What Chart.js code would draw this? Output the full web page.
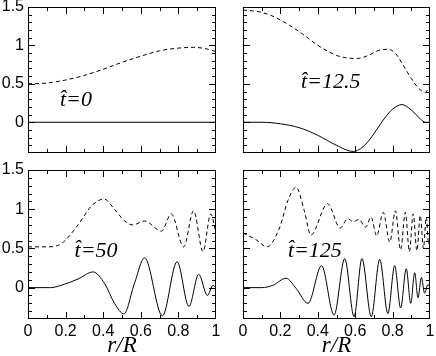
<!DOCTYPE html>
<html>
<head>
<meta charset="utf-8">
<script src="https://cdn.jsdelivr.net/npm/chart.js@4.4.1/dist/chart.umd.min.js"></script>
<style>
  body { margin: 0; background: #fff; }
  #wrap { position: relative; width: 436px; height: 356px; }
  #wrap canvas { position: absolute; left: 0; top: 0; }
</style>
</head>
<body>
<div id="wrap">
  <canvas id="p0" width="436" height="356"></canvas>
  <canvas id="p1" width="436" height="356"></canvas>
  <canvas id="p2" width="436" height="356"></canvas>
  <canvas id="p3" width="436" height="356"></canvas>
</div>
<script>
// tick labels
const xTicks = [0, 0.2, 0.4, 0.6, 0.8, 1];
const yTicks = [0, 0.5, 1, 1.5];

// t = 0
const rDash0 = [0, 0.1, 0.2, 0.3, 0.4, 0.5, 0.6, 0.7, 0.8, 0.88, 0.95, 1];
const dash0 = [0.5, 0.51, 0.55, 0.61, 0.69, 0.78, 0.86, 0.93, 0.965, 0.975, 0.955, 0.92];
const rSolid0 = [0, 1];
const solid0 = [0, 0];

// t = 12.5
const rDash1 = [0, 0.05, 0.1, 0.15, 0.2, 0.25, 0.3, 0.35, 0.4, 0.45, 0.5, 0.55, 0.61, 0.67, 0.72, 0.77, 0.81, 0.86, 0.9, 0.94, 0.975, 1];
const dash1 = [1.46, 1.45, 1.43, 1.39, 1.33, 1.26, 1.18, 1.09, 1.0, 0.93, 0.87, 0.84, 0.83, 0.87, 0.93, 0.95, 0.91, 0.73, 0.57, 0.44, 0.39, 0.48];
const rSolid1 = [0, 0.1, 0.2, 0.3, 0.4, 0.5, 0.59, 0.65, 0.7, 0.75, 0.8, 0.85, 0.9, 0.95, 0.975, 1];
const solid1 = [0, 0, -0.02, -0.07, -0.17, -0.3, -0.38, -0.3, -0.15, 0.03, 0.17, 0.23, 0.16, 0.04, 0, 0];

// t = 50
const rDash2 = [0, 0.1, 0.177, 0.266, 0.337, 0.404, 0.46, 0.514, 0.558, 0.62, 0.71, 0.762, 0.828, 0.881, 0.931, 0.972, 1];
const dash2 = [0.52, 0.52, 0.56, 0.8, 1.04, 1.13, 1.0, 0.85, 0.8, 0.85, 0.72, 0.94, 0.52, 0.98, 0.46, 0.94, 0.7];
const rSolid2 = [0, 0.12, 0.177, 0.266, 0.346, 0.408, 0.46, 0.51, 0.567, 0.62, 0.715, 0.793, 0.856, 0.908, 0.954, 0.984, 1];
const solid2 = [0, 0, 0.03, 0.11, 0.2, 0.05, -0.2, -0.335, 0.06, 0.38, -0.36, 0.33, -0.24, 0.17, -0.1, 0.03, 0];

// t = 125
const rDash3 = [0, 0.071, 0.128, 0.195, 0.24, 0.284, 0.328, 0.363, 0.452, 0.52, 0.56, 0.59, 0.62, 0.655, 0.685, 0.715, 0.75, 0.785, 0.815, 0.843, 0.868, 0.89, 0.91, 0.93, 0.948, 0.965, 0.98, 0.993, 1];
const dash3 = [0.695, 0.61, 0.52, 0.76, 1.11, 1.28, 0.98, 0.67, 1.07, 0.76, 0.88, 0.84, 0.87, 0.77, 0.9, 0.66, 0.96, 0.58, 0.98, 0.48, 0.96, 0.46, 0.94, 0.47, 0.92, 0.5, 0.9, 0.55, 0.75];
const rSolid3 = [0, 0.1, 0.16, 0.23, 0.284, 0.348, 0.42, 0.487, 0.544, 0.594, 0.636, 0.686, 0.731, 0.775, 0.811, 0.843, 0.873, 0.897, 0.918, 0.936, 0.954, 0.971, 0.989, 1];
const solid3 = [0, 0, 0.03, 0.12, -0.01, -0.2, 0.28, -0.35, 0.37, -0.37, 0.37, -0.37, 0.36, -0.33, 0.28, -0.26, 0.24, -0.2, 0.19, -0.13, 0.13, -0.07, 0.04, 0];

const pts = (xs, ys) => xs.map((x, i) => ({x: x, y: ys[i]}));

// ticks pointing inwards on all four sides, plus the frame
const innerTicks = {
  id: 'innerTicks',
  afterDraw(chart) {
    const {ctx, chartArea: a, scales: {x, y}} = chart;
    ctx.save();
    ctx.strokeStyle = '#000';
    ctx.lineWidth = 1;
    ctx.beginPath();
    for (let i = 1; i < 10; i++) {
      const px = Math.round(x.getPixelForValue(i / 10)) + 0.5;
      const len = i % 2 === 0 ? 7 : 4;
      ctx.moveTo(px, a.top); ctx.lineTo(px, a.top + len);
      ctx.moveTo(px, a.bottom); ctx.lineTo(px, a.bottom - len);
    }
    for (let i = -3; i < 15; i++) {
      const py = Math.round(y.getPixelForValue(i / 10)) + 0.5;
      const len = i % 5 === 0 ? 7 : 4;
      ctx.moveTo(a.left, py); ctx.lineTo(a.left + len, py);
      ctx.moveTo(a.right, py); ctx.lineTo(a.right - len, py);
    }
    ctx.stroke();
    ctx.strokeRect(Math.round(a.left) + 0.5, Math.round(a.top) + 0.5, Math.round(a.width) - 1, Math.round(a.height) - 1);
    ctx.restore();
  }
};

// the t-hat label inside each panel
const panelLabel = {
  id: 'panelLabel',
  afterDraw(chart, args, opts) {
    const {ctx, scales: {x, y}} = chart;
    ctx.save();
    ctx.fillStyle = '#000';
    ctx.font = 'italic 22px "Liberation Serif", "Times New Roman", serif';
    ctx.textBaseline = 'alphabetic';
    ctx.fillText(opts.text, x.getPixelForValue(opts.x), y.getPixelForValue(opts.y));
    ctx.restore();
  }
};

const tickFont = {family: '"Liberation Sans", Arial, sans-serif', size: 16};

function makePanel(id, pad, rd, d, rs, s, label, showX, showY) {
  new Chart(document.getElementById(id), {
    type: 'line',
    data: {
      datasets: [
        {data: pts(rd, d), borderColor: '#000', borderWidth: 1, borderDash: [4, 3], pointRadius: 0, cubicInterpolationMode: 'monotone'},
        {data: pts(rs, s), borderColor: '#000', borderWidth: 1, pointRadius: 0, cubicInterpolationMode: 'monotone'}
      ]
    },
    options: {
      responsive: false,
      animation: false,
      devicePixelRatio: 1,
      layout: {padding: pad},
      plugins: {legend: {display: false}, tooltip: {enabled: false}, panelLabel: label},
      scales: {
        x: {
          type: 'linear', min: 0, max: 1,
          grid: {display: false, drawTicks: false}, border: {display: false},
          afterBuildTicks: sc => { sc.ticks = xTicks.map(v => ({value: v})); },
          afterFit: sc => {
            sc.height = showX ? 37 : 0;
            sc.paddingLeft = sc.paddingRight = sc.paddingTop = sc.paddingBottom = 0;
          },
          ticks: {display: showX, color: '#000', font: tickFont, padding: 3, maxRotation: 0, autoSkip: false,
                  callback: v => String(v)},
          title: {display: showX, text: 'r/R', color: '#000', padding: {top: 0, bottom: 1},
                  font: {family: '"Liberation Serif", "Times New Roman", serif', style: 'italic', size: 23, lineHeight: 0.75}}
        },
        y: {
          type: 'linear', min: -0.4, max: 1.5,
          grid: {display: false, drawTicks: false}, border: {display: false},
          afterBuildTicks: sc => { sc.ticks = yTicks.map(v => ({value: v})); },
          afterFit: sc => {
            sc.width = showY ? 28 : 0;
            sc.paddingLeft = sc.paddingRight = sc.paddingTop = sc.paddingBottom = 0;
          },
          ticks: {display: showY, color: '#000', font: tickFont, padding: 4, autoSkip: false,
                  callback: v => String(v)}
        }
      }
    },
    plugins: [innerTicks, panelLabel]
  });
}

makePanel('p0', {left: 0, top: 7, right: 220, bottom: 203}, rDash0, dash0, rSolid0, solid0,
  {text: 't\u0302=0', x: 0.17, y: 0.21}, false, true);
makePanel('p1', {left: 243, top: 7, right: 6, bottom: 203}, rDash1, dash1, rSolid1, solid1,
  {text: 't\u0302=12.5', x: 0.31, y: 0.44}, false, false);
makePanel('p2', {left: 0, top: 170, right: 220, bottom: 0}, rDash2, dash2, rSolid2, solid2,
  {text: 't\u0302=50', x: 0.248, y: 0.395}, true, true);
makePanel('p3', {left: 243, top: 170, right: 6, bottom: 0}, rDash3, dash3, rSolid3, solid3,
  {text: 't\u0302=125', x: 0.24, y: 0.395}, true, false);
</script>
</body>
</html>
